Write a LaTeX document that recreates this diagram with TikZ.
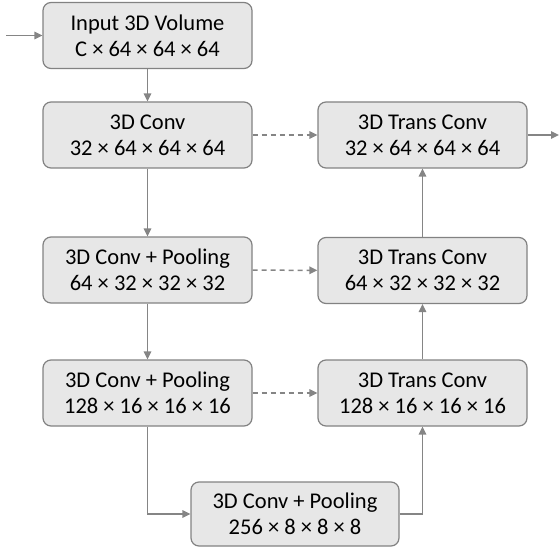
\documentclass[tikz,border=0pt]{standalone}
\usepackage{fontspec}
\setmainfont{Carlito}
\usetikzlibrary{arrows.meta}
\definecolor{boxfill}{HTML}{E7E7E7}
\definecolor{boxline}{HTML}{828282}
\definecolor{arrowgray}{HTML}{858585}
\begin{document}
\begin{tikzpicture}[x=1pt,y=-1pt,
  box/.style={draw=boxline,line width=1.2pt,fill=boxfill,rounded corners=8pt,
    minimum width=209pt,minimum height=66pt,inner sep=0pt,align=center,
    font=\fontsize{22.5}{26}\selectfont},
  link/.style={draw=arrowgray,line width=1.5pt,-{Triangle[length=8pt,width=7.5pt]}},
  skip/.style={link,dash pattern=on 5pt off 4pt}]
\useasboundingbox (0,0) rectangle (559,548);
\node[box] (in) at (147.5,35.5) {Input 3D Volume\\C × 64 × 64 × 64};
\node[box] (conv) at (147.5,135) {3D Conv\\32 × 64 × 64 × 64};
\node[box] (pool1) at (147.5,270) {3D Conv + Pooling\\64 × 32 × 32 × 32};
\node[box] (pool2) at (147.5,393) {3D Conv + Pooling\\128 × 16 × 16 × 16};
\node[box,minimum width=208pt,minimum height=64pt] (pool3) at (295,514) {3D Conv + Pooling\\256 × 8 × 8 × 8};
\node[box] (trans1) at (422.5,135) {3D Trans Conv\\32 × 64 × 64 × 64};
\node[box] (trans2) at (422.5,270.5) {3D Trans Conv\\64 × 32 × 32 × 32};
\node[box] (trans3) at (422.5,393) {3D Trans Conv\\128 × 16 × 16 × 16};
\coordinate (start) at (6,35.5);
\coordinate (end) at (559,135);
% down path
\draw[link] (start) -- (in);
\draw[link] (in) -- (conv);
\draw[link] (conv) -- (pool1);
\draw[link] (pool1) -- (pool2);
\draw[link] (pool2.south) |- (pool3.west);
% up path
\draw[link] (pool3.east) -| (trans3.south);
\draw[link] (trans3) -- (trans2);
\draw[link] (trans2) -- (trans1);
\draw[link] (trans1) -- (end);
% skips
\draw[skip] (conv) -- (trans1);
\draw[skip] (pool1) -- (trans2);
\draw[skip] (pool2) -- (trans3);
\end{tikzpicture}
\end{document}
